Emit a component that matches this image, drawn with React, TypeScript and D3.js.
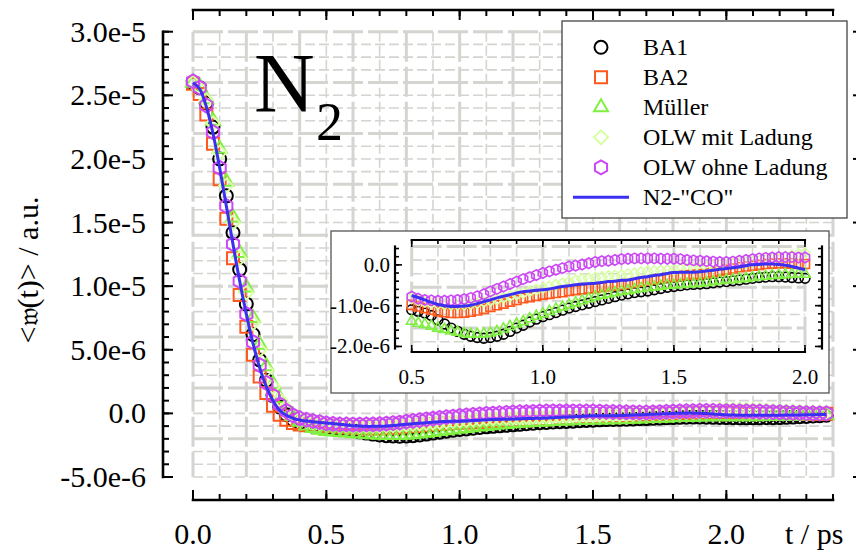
import React from "react";
import * as d3 from "d3";

// Sampling times (ps) of the velocity autocorrelation data: 0 … 2.375 ps
const times = d3.range(96).map((i) => +(i * 0.025).toFixed(3));

// <w(t)> values in units of 1e-6 a.u., eight samples (0.2 ps) per row
const ba1 = [
  26.0, 25.6, 24.4, 22.5, 20.0, 17.1, 14.2, 11.3,
  8.6, 6.2, 4.2, 2.6, 1.4, 0.5, -0.1, -0.5,
  -0.75, -0.9, -1.0, -1.05, -1.1, -1.14, -1.18, -1.24,
  -1.35, -1.45, -1.55, -1.63, -1.7, -1.75, -1.78, -1.8,
  -1.78, -1.75, -1.7, -1.63, -1.55, -1.48, -1.4, -1.33,
  -1.27, -1.22, -1.17, -1.11, -1.06, -1.02, -0.98, -0.94,
  -0.9, -0.86, -0.82, -0.78, -0.74, -0.71, -0.68, -0.66,
  -0.64, -0.61, -0.58, -0.55, -0.53, -0.51, -0.49, -0.48,
  -0.47, -0.46, -0.44, -0.42, -0.41, -0.39, -0.37, -0.35,
  -0.33, -0.31, -0.3, -0.29, -0.29, -0.3, -0.31, -0.32,
  -0.33, -0.34, -0.35, -0.35, -0.35, -0.35, -0.34, -0.34,
  -0.33, -0.31, -0.29, -0.27, -0.24, -0.21, -0.18, -0.15,
];
const ba2 = [
  25.9, 25.1, 23.5, 21.2, 18.4, 15.3, 12.2, 9.3,
  6.8, 4.6, 2.9, 1.6, 0.6, -0.1, -0.5, -0.75,
  -0.88, -0.94, -0.96, -0.97, -0.98, -1.02, -1.06, -1.1,
  -1.14, -1.16, -1.18, -1.18, -1.17, -1.15, -1.12, -1.08,
  -1.03, -0.99, -0.95, -0.9, -0.86, -0.82, -0.79, -0.76,
  -0.73, -0.71, -0.69, -0.67, -0.64, -0.62, -0.6, -0.58,
  -0.57, -0.55, -0.53, -0.51, -0.49, -0.47, -0.44, -0.41,
  -0.39, -0.36, -0.33, -0.31, -0.29, -0.27, -0.25, -0.24,
  -0.23, -0.21, -0.18, -0.15, -0.12, -0.09, -0.06, -0.04,
  -0.02, 0.0, 0.02, 0.03, 0.04, 0.04, 0.03, 0.02,
  0.02, 0.01, 0.0, -0.02, -0.03, -0.04, -0.04, -0.05,
  -0.05, -0.05, -0.05, -0.05, -0.05, -0.04, -0.04, -0.03,
];
const mueller = [
  26.0, 25.7, 24.7, 23.0, 20.8, 18.2, 15.4, 12.6,
  9.9, 7.5, 5.4, 3.7, 2.3, 1.2, 0.4, -0.2,
  -0.65, -0.95, -1.15, -1.28, -1.38, -1.43, -1.46, -1.5,
  -1.55, -1.58, -1.62, -1.65, -1.68, -1.7, -1.7, -1.69,
  -1.67, -1.63, -1.57, -1.51, -1.45, -1.39, -1.32, -1.26,
  -1.2, -1.14, -1.08, -1.03, -0.98, -0.93, -0.88, -0.83,
  -0.78, -0.74, -0.71, -0.68, -0.65, -0.63, -0.6, -0.58,
  -0.56, -0.54, -0.52, -0.5, -0.49, -0.48, -0.47, -0.46,
  -0.45, -0.43, -0.41, -0.39, -0.37, -0.36, -0.34, -0.33,
  -0.31, -0.29, -0.28, -0.26, -0.25, -0.24, -0.23, -0.23,
  -0.23, -0.23, -0.22, -0.22, -0.22, -0.22, -0.21, -0.21,
  -0.2, -0.19, -0.18, -0.16, -0.15, -0.13, -0.12, -0.1,
];
const olwMit = [
  26.0, 25.6, 24.6, 22.8, 20.5, 17.9, 15.0, 12.2,
  9.5, 7.1, 5.0, 3.4, 2.1, 1.1, 0.4, -0.1,
  -0.4, -0.57, -0.68, -0.76, -0.82, -0.87, -0.91, -0.94,
  -0.96, -0.97, -0.98, -0.98, -0.98, -0.96, -0.94, -0.91,
  -0.88, -0.85, -0.81, -0.77, -0.73, -0.69, -0.65, -0.61,
  -0.57, -0.53, -0.49, -0.45, -0.41, -0.38, -0.35, -0.33,
  -0.31, -0.29, -0.27, -0.26, -0.25, -0.23, -0.21, -0.18,
  -0.16, -0.15, -0.14, -0.13, -0.12, -0.1, -0.09, -0.08,
  -0.07, -0.05, -0.03, -0.01, 0.02, 0.03, 0.05, 0.06,
  0.08, 0.1, 0.12, 0.14, 0.16, 0.2, 0.23, 0.27,
  0.29, 0.3, 0.3, 0.29, 0.27, 0.25, 0.23, 0.2,
  0.18, 0.15, 0.13, 0.11, 0.09, 0.07, 0.06, 0.05,
];
const olwOhne = [
  26.1, 25.6, 24.2, 22.1, 19.3, 16.3, 13.3, 10.4,
  7.8, 5.6, 3.8, 2.4, 1.4, 0.7, 0.2, -0.15,
  -0.38, -0.5, -0.6, -0.69, -0.78, -0.83, -0.86, -0.87,
  -0.88, -0.88, -0.87, -0.86, -0.84, -0.81, -0.77, -0.72,
  -0.65, -0.59, -0.53, -0.47, -0.41, -0.35, -0.3, -0.25,
  -0.2, -0.16, -0.12, -0.08, -0.04, -0.02, 0.01, 0.04,
  0.07, 0.09, 0.1, 0.12, 0.14, 0.15, 0.16, 0.16,
  0.16, 0.16, 0.15, 0.15, 0.15, 0.14, 0.12, 0.11,
  0.1, 0.09, 0.08, 0.07, 0.07, 0.08, 0.1, 0.12,
  0.14, 0.16, 0.17, 0.18, 0.19, 0.19, 0.19, 0.18,
  0.18, 0.17, 0.16, 0.16, 0.15, 0.13, 0.12, 0.1,
  0.09, 0.07, 0.05, 0.04, 0.02, 0.01, 0.0, 0.0,
];
const n2co = [
  26.0, 25.5, 24.1, 22.0, 19.3, 16.3, 13.3, 10.4,
  7.8, 5.5, 3.6, 2.1, 1.0, 0.25, -0.15, -0.38,
  -0.52, -0.6, -0.66, -0.71, -0.75, -0.8, -0.86, -0.92,
  -0.97, -1.0, -1.02, -1.02, -1.01, -0.99, -0.95, -0.9,
  -0.86, -0.81, -0.77, -0.73, -0.69, -0.66, -0.64, -0.62,
  -0.61, -0.59, -0.56, -0.53, -0.51, -0.49, -0.47, -0.46,
  -0.45, -0.43, -0.41, -0.4, -0.38, -0.37, -0.34, -0.31,
  -0.29, -0.26, -0.24, -0.21, -0.19, -0.18, -0.18, -0.18,
  -0.17, -0.15, -0.13, -0.11, -0.09, -0.07, -0.05, -0.02,
  0.0, 0.01, 0.02, 0.02, 0.01, -0.01, -0.04, -0.08,
  -0.12, -0.13, -0.14, -0.15, -0.15, -0.15, -0.15, -0.14,
  -0.14, -0.13, -0.12, -0.12, -0.11, -0.1, -0.09, -0.08,
];

const seriesNames = ["BA1", "BA2", "Müller", "OLW mit Ladung", "OLW ohne Ladung"];
const seriesValues = [ba1, ba2, mueller, olwMit, olwOhne];
const seriesColors = ["#000000", "#ff5a1e", "#80f040", "#d8ffa4", "#cc48f4"];
const seriesShapes = ["circle", "square", "triangle", "diamond", "hexagon"];
const lineName = 'N2-"CO"';
const lineColor = "#3b2ff2";

// Main axes
const xTicks = [0, 0.5, 1.0, 1.5, 2.0];
const xTickLabels = ["0.0", "0.5", "1.0", "1.5", "2.0"];
const yTicks = [30, 25, 20, 15, 10, 5, 0, -5];
const yTickLabels = ["3.0e-5", "2.5e-5", "2.0e-5", "1.5e-5", "1.0e-5", "5.0e-6", "0.0", "-5.0e-6"];

// Inset axes
const insetXTicks = [0.5, 1.0, 1.5, 2.0];
const insetXTickLabels = ["0.5", "1.0", "1.5", "2.0"];
const insetYTicks = [0, -1, -2];
const insetYTickLabels = ["0.0", "-1.0e-6", "-2.0e-6"];

const FONT = "'Liberation Serif', 'Times New Roman', serif";

function markerPath(shape: string, s: number): string {
  switch (shape) {
    case "square": {
      const h = 6 * s;
      return `M${-h},${-h}h${2 * h}v${2 * h}h${-2 * h}Z`;
    }
    case "triangle": {
      const a = 14 * s;
      const ht = a * 0.866;
      return `M0,${(-2 / 3) * ht}L${a / 2},${ht / 3}L${-a / 2},${ht / 3}Z`;
    }
    case "diamond": {
      const h = 7 * s;
      return `M0,${-h}L${h},0L0,${h}L${-h},0Z`;
    }
    case "hexagon": {
      const r = 7 * s;
      const pts = d3.range(6).map((k) => {
        const a = ((-90 + 60 * k) * Math.PI) / 180;
        return [r * Math.cos(a), r * Math.sin(a)];
      });
      return "M" + pts.map((p) => p.join(",")).join("L") + "Z";
    }
    default: {
      const r = 6.5 * s;
      return `M${r},0A${r},${r},0,1,1,${-r},0A${r},${r},0,1,1,${r},0Z`;
    }
  }
}

type GridProps = {
  x0: number; x1: number; y0: number; y1: number;
  vx: number[]; hy: number[];
  vThick: (i: number) => boolean; hThick: (i: number) => boolean;
};

function Grid({ x0, x1, y0, y1, vx, hy, vThick, hThick }: GridProps) {
  return (
    <g>
      {hy.map((y, i) => (
        <line key={"h" + i} x1={x0} x2={x1} y1={y} y2={y}
          stroke="#d4d4d0" strokeWidth={hThick(i) ? 3 : 1.6}
          strokeDasharray={hThick(i) ? "30,5" : "10,4"} />
      ))}
      {vx.map((x, i) => (
        <line key={"v" + i} x1={x} x2={x} y1={y0} y2={y1}
          stroke="#d4d4d0" strokeWidth={vThick(i) ? 3 : 1.6}
          strokeDasharray={vThick(i) ? "30,5" : "10,4"} />
      ))}
    </g>
  );
}

type AxisProps = {
  orient: "left" | "right" | "top" | "bottom";
  pos: number; scale: d3.ScaleLinear<number, number>;
  major: number[]; minor: number[]; majorLen: number; minorLen: number; width: number; tickWidth: number;
};

function FrameAxis({ orient, pos, scale, major, minor, majorLen, minorLen, width, tickWidth }: AxisProps) {
  const [r0, r1] = scale.range();
  const vertical = orient === "left" || orient === "right";
  const dir = orient === "left" || orient === "top" ? 1 : -1;
  const tick = (v: number, len: number, key: string) => {
    const p = scale(v);
    return vertical ? (
      <line key={key} x1={pos} x2={pos + dir * len} y1={p} y2={p} stroke="#000" strokeWidth={tickWidth} />
    ) : (
      <line key={key} x1={p} x2={p} y1={pos} y2={pos + dir * len} stroke="#000" strokeWidth={tickWidth} />
    );
  };
  return (
    <g>
      {vertical ? (
        <line x1={pos} x2={pos} y1={r0 + width / 2} y2={r1 - width / 2} stroke="#000" strokeWidth={width} />
      ) : (
        <line x1={r0 - width / 2} x2={r1 + width / 2} y1={pos} y2={pos} stroke="#000" strokeWidth={width} />
      )}
      {minor.map((v, i) => tick(v, minorLen, "m" + i))}
      {major.map((v, i) => tick(v, majorLen, "M" + i))}
    </g>
  );
}

function Markers({ x, y, s, sw }: { x: d3.ScaleLinear<number, number>; y: d3.ScaleLinear<number, number>; s: number; sw: number }) {
  const [xa, xb] = x.domain();
  return (
    <g>
      {seriesValues.map((vals, si) => (
        <g key={si} fill="none" stroke={seriesColors[si]} strokeWidth={sw}>
          {vals.map((v, i) =>
            times[i] >= xa - 1e-9 && times[i] <= xb + 1e-9 ? (
              <path key={i} d={markerPath(seriesShapes[si], s)}
                transform={`translate(${x(times[i])},${y(v)})`} />
            ) : null
          )}
        </g>
      ))}
    </g>
  );
}

export default function App() {
  const W = 856, H = 553;

  // main panel
  const x = d3.scaleLinear().domain([0, 2.4]).range([193, 833]);
  const y = d3.scaleLinear().domain([-5, 30]).range([477, 31.7]);
  const xMinor = d3.range(0, 25).map((i) => +(i * 0.1).toFixed(2));
  const yMinor = d3.range(-5, 31, 1);

  // inset panel
  const ix = d3.scaleLinear().domain([0.5, 2.0]).range([411.7, 805]);
  const iy = d3.scaleLinear().domain([-2.05, 0.45]).range([348.5, 246.5]);
  const ixMinor = d3.range(5, 21).map((i) => +(i * 0.1).toFixed(2));
  const iyMinor = d3.range(-10, 3).map((i) => +(i * 0.2).toFixed(2));

  const line = d3.line<number>()
    .x((_, i) => x(times[i]))
    .y((d) => y(d))
    .curve(d3.curveCatmullRom);
  const insetIdx = times.map((t, i) => i).filter((i) => times[i] >= 0.5 - 1e-9 && times[i] <= 2.0 + 1e-9);
  const insetLine = d3.line<number>()
    .x((i) => ix(times[i]))
    .y((i) => iy(n2co[i]))
    .curve(d3.curveCatmullRom);

  const mainGridV = xMinor.map((t) => x(t));
  const mainGridH = d3.range(30, -5.5, -1).map((v) => y(v));
  const insetGridV = ixMinor.map((t) => ix(t));
  const insetGridH = d3.range(0, 8).map((k) => iy(0.45 - (k * 2.5) / 7.5));

  return (
    <svg width={W} height={H} style={{ position: "absolute", left: 0, top: 0, background: "#fff" }}
      fontFamily={FONT}>
      <rect width={W} height={H} fill="#fff" />

      <Grid x0={193} x1={833} y0={31.7} y1={477} vx={mainGridV} hy={mainGridH}
        vThick={(i) => i % 2 === 0} hThick={(i) => i % 4 === 0} />

      {/* frame axes of the main panel */}
      <FrameAxis orient="left" pos={163} scale={y} major={yTicks} minor={yMinor}
        majorLen={10} minorLen={6} width={2.6} tickWidth={2} />
      <FrameAxis orient="right" pos={863} scale={y} major={yTicks} minor={yMinor}
        majorLen={10} minorLen={6} width={2.6} tickWidth={2} />
      <FrameAxis orient="bottom" pos={500} scale={x} major={xTicks} minor={xMinor}
        majorLen={10} minorLen={6} width={2.6} tickWidth={2} />
      <FrameAxis orient="top" pos={10} scale={x} major={xTicks} minor={xMinor}
        majorLen={10} minorLen={6} width={2.6} tickWidth={2} />

      {yTicks.map((v, i) => (
        <text key={"yl" + i} x={146} y={y(v) + 10} textAnchor="end" fontSize={30}>{yTickLabels[i]}</text>
      ))}
      {xTicks.map((v, i) => (
        <text key={"xl" + i} x={x(v)} y={544} textAnchor="middle" fontSize={30}>{xTickLabels[i]}</text>
      ))}
      <text x={785} y={544} fontSize={30}>t / ps</text>
      <text transform="translate(38,270) rotate(-90)" textAnchor="middle" fontSize={30}>
        {"<"}<tspan fontFamily="'DejaVu Serif', 'DejaVu Sans', serif" fontSize={27}>𝔴</tspan>{"(t)> / a.u."}
      </text>

      <text x={254} y={112} fontSize={84}>N</text>
      <text x={316} y={140} fontSize={54}>2</text>

      <Markers x={x} y={y} s={1} sw={2} />
      <path d={line(n2co) || ""} fill="none" stroke={lineColor} strokeWidth={3} />

      {/* inset */}
      <rect x={331} y={231} width={498} height={162} fill="#fff" stroke="#555" strokeWidth={1.3} />
      <Grid x0={411.7} x1={805} y0={246.5} y1={348.5} vx={insetGridV} hy={insetGridH}
        vThick={(i) => i % 5 === 0} hThick={(i) => i % 3 === 0} />
      <FrameAxis orient="left" pos={395} scale={iy} major={insetYTicks} minor={iyMinor}
        majorLen={7} minorLen={4} width={2.2} tickWidth={1.6} />
      <FrameAxis orient="right" pos={822} scale={iy} major={insetYTicks} minor={iyMinor}
        majorLen={7} minorLen={4} width={2.2} tickWidth={1.6} />
      <FrameAxis orient="top" pos={240} scale={ix} major={insetXTicks} minor={ixMinor}
        majorLen={7} minorLen={4} width={2.2} tickWidth={1.6} />
      <FrameAxis orient="bottom" pos={352} scale={ix} major={insetXTicks} minor={ixMinor}
        majorLen={7} minorLen={4} width={2.2} tickWidth={1.6} />
      {insetYTicks.map((v, i) => (
        <text key={"iyl" + i} x={390} y={iy(v) + 7} textAnchor="end" fontSize={21}>{insetYTickLabels[i]}</text>
      ))}
      {insetXTicks.map((v, i) => (
        <text key={"ixl" + i} x={ix(v)} y={384} textAnchor="middle" fontSize={21}>{insetXTickLabels[i]}</text>
      ))}
      <Markers x={ix} y={iy} s={0.75} sw={1.6} />
      <path d={insetLine(insetIdx) || ""} fill="none" stroke={lineColor} strokeWidth={3} />

      {/* legend */}
      <rect x={562} y={21} width={285} height={197} fill="#fff" stroke="#444" strokeWidth={1.3} />
      {seriesNames.map((name, i) => (
        <g key={"lg" + i} transform={`translate(0,${47.3 + 30 * i})`}>
          <path d={markerPath(seriesShapes[i], 1)} transform="translate(601,0)" fill="none"
            stroke={seriesColors[i]} strokeWidth={2} />
          <text x={643} y={8} fontSize={24}>{name}</text>
        </g>
      ))}
      <g transform={`translate(0,${47.3 + 30 * 5})`}>
        <line x1={573} x2={629} y1={0} y2={0} stroke={lineColor} strokeWidth={3} />
        <text x={643} y={8} fontSize={24}>{lineName}</text>
      </g>
    </svg>
  );
}
